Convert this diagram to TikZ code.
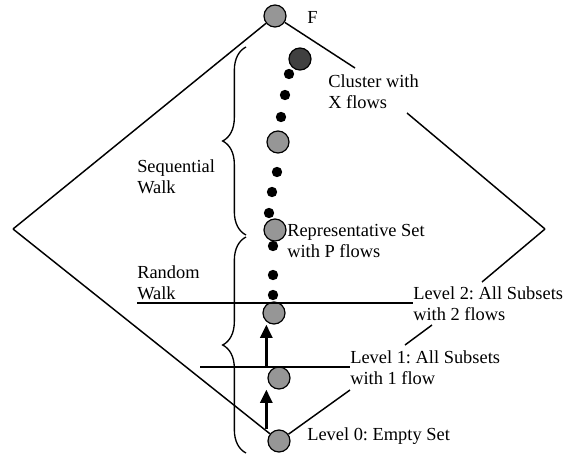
\documentclass[tikz,border=0pt]{standalone}
\usepackage{fontspec}
\setmainfont{Liberation Serif}
\usetikzlibrary{decorations.pathreplacing,arrows.meta}
\definecolor{nodegray}{RGB}{150,150,150}
\definecolor{nodedark}{RGB}{64,64,64}
\frenchspacing
\begin{document}
\begin{tikzpicture}[x=0.75pt,y=-0.75pt,
  edge/.style={line width=1.1pt},
  bigdot/.style={circle,draw=black,line width=0.9pt,fill=nodegray,minimum size=16.5pt,inner sep=0pt},
  darkdot/.style={bigdot,fill=nodedark},
  smalldot/.style={circle,fill=black,minimum size=7.8pt,inner sep=0pt},
  lab/.style={font=\fontsize{13.8}{16.1}\selectfont,align=left,inner sep=0pt,anchor=base west},
  upbrace/.style={decorate,decoration={brace,amplitude=17.5pt},line width=1pt},
  uparrow/.style={line width=2.3pt,-{Triangle[length=10pt,width=9pt]}}]
\useasboundingbox (0,0) rectangle (568,454);
% small dots
\node[smalldot] (d1) at (289,74) {};
\node[smalldot] (d2) at (285,95) {};
\node[smalldot] (d3) at (281,117) {};
\node[smalldot] (d4) at (277,172) {};
\node[smalldot] (d5) at (272,192) {};
\node[smalldot] (d6) at (269,213) {};
\node[smalldot] (d7) at (273,246) {};
\node[smalldot] (d8) at (273,275) {};
\node[smalldot] (d9) at (273,295) {};
% big circles
\node[bigdot] (F) at (275,16) {};
\node[darkdot] (X) at (300,59) {};
\node[bigdot] (g2) at (278,142) {};
\node[bigdot] (P) at (275,230) {};
\node[bigdot] (l2) at (274,313) {};
\node[bigdot] (l1) at (279,378) {};
\node[bigdot] (l0) at (279,441) {};
% labels (base = baseline of last line)
\node[lab] (fl) at (307,23) {F};
\node[lab] (cl) at (328,108.5) {Cluster with\\X flows};
\node[lab] (sw) at (137,193.5) {Sequential\\Walk};
\node[lab] (rs) at (287,257.5) {Representative Set\\with P flows};
\node[lab] (rw) at (137,299.5) {Random\\Walk};
\node[lab] (lv2) at (413,320.5) {Level 2: All Subsets\\with 2 flows};
\node[lab] (lv1) at (350,384.5) {Level 1: All Subsets\\with 1 flow};
\node[lab] (lv0) at (307,440) {Level 0: Empty Set};
% diamond corner and break points
\coordinate (L) at (13,229);
\coordinate (R) at (545,229);
\coordinate (c1) at (355,68);
\coordinate (c2) at (407,113);
\coordinate (c3) at (482,282);
\coordinate (c4) at (432,325);
\coordinate (c5) at (405,345);
\coordinate (c6) at (350,390);
\coordinate (h2a) at (137,303);
\coordinate (h2b) at (413,303);
\coordinate (h1a) at (200,367);
\coordinate (h1b) at (350,367);
\coordinate (b1s) at (246,235);
\coordinate (b1e) at (246,47);
\coordinate (b2s) at (246,453);
\coordinate (b2e) at (246,237);
% diamond
\draw[edge] (L) -- (F);
\draw[edge] (F) -- (c1);
\draw[edge] (c2) -- (R);
\draw[edge] (R) -- (c3);
\draw[edge] (c4) -- (c5);
\draw[edge] (c6) -- (l0);
\draw[edge] (L) -- (l0);
% level lines
\draw[edge] (h2a) -- (h2b);
\draw[edge] (h1a) -- (h1b);
% braces
\draw[upbrace] (b1s) -- (b1e);
\draw[upbrace] (b2s) -- (b2e);
% arrows
\draw[uparrow] ([xshift=-9.5pt]l0.north) -- ([xshift=-9.5pt]l1.south);
\draw[uparrow] ([xshift=-9.5pt]l1.north) -- ([xshift=-5.75pt]l2.south);
\end{tikzpicture}
\end{document}
